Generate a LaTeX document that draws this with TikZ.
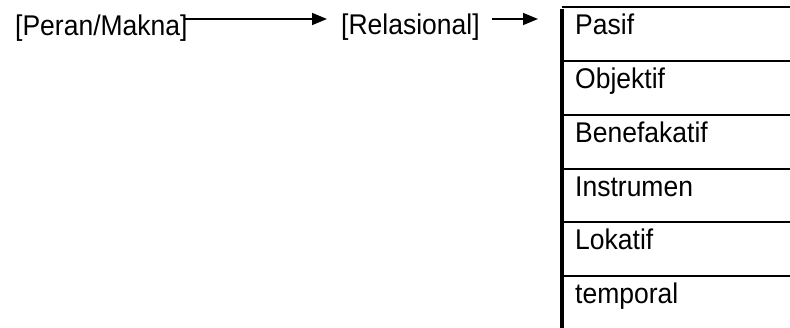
\documentclass[tikz,border=0pt]{standalone}
\usepackage{fontspec}
\setmainfont[FakeStretch=0.93]{Liberation Sans}
\usetikzlibrary{arrows.meta}
\begin{document}
\begin{tikzpicture}[x=1pt,y=-1pt,
  lbl/.style={anchor=base west, inner sep=0pt, font=\fontsize{28.5}{28.5}\selectfont},
  conn/.style={line width=1.6pt, -{Triangle[length=15pt,width=12pt]}},
  cell/.style={anchor=north west, minimum width=228pt, minimum height=53.75pt, inner sep=0pt, draw=none},
  rowline/.style={line width=2pt},
  spine/.style={line width=3.6pt}]
\useasboundingbox (0,0) rectangle (790,328);
\node[lbl] (peran) at (15,36) {[Peran/Makna]};
\node[lbl] (rel) at (341,35) {[Relasional]};
\coordinate (arrowrow) at (0,19);
\foreach \i/\t in {1/Pasif,2/Objektif,3/Benefakatif,4/Instrumen,5/Lokatif,6/temporal}{
  \node[cell] (r\i) at (562,{7.5+(\i-1)*53.75}) {};
  \node[lbl] (t\i) at ([shift={(13,27.5)}]r\i.north west) {\t};
  \draw[rowline] (r\i.north west) -- (r\i.north east);
}
\draw[spine] ([yshift=-1.2pt]r1.north west) -- (r6.south west);
\draw[conn, shorten <=-4pt, shorten >=14pt] (peran.east |- arrowrow) -- (rel.west |- arrowrow);
\draw[conn, shorten <=12pt, shorten >=24pt] (rel.east |- arrowrow) -- (r1.west |- arrowrow);
\end{tikzpicture}
\end{document}
